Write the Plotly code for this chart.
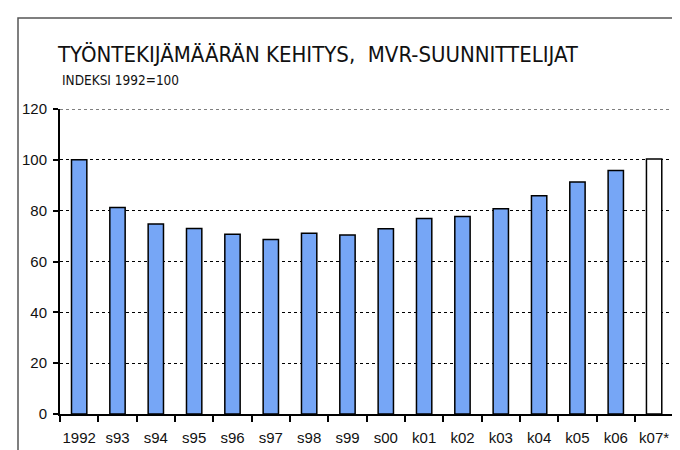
import plotly.graph_objects as go

categories = ["1992", "s93", "s94", "s95", "s96", "s97", "s98", "s99", "s00",
              "k01", "k02", "k03", "k04", "k05", "k06", "k07*", "k08*"]
values = [100, 81.2, 74.8, 73.0, 70.7, 68.7, 71.1, 70.4, 72.9,
          76.9, 77.7, 80.8, 85.9, 91.3, 95.8, 100.3, 102.6]
forecast = [False] * 15 + [True, True]
y_ticks = [0, 20, 40, 60, 80, 100, 120]

title_text = "TYÖNTEKIJÄMÄÄRÄN KEHITYS,  MVR-SUUNNITTELIJAT"
subtitle_text = "INDEKSI 1992=100"

BLUE = "#76A6F6"
colors = ["white" if f else BLUE for f in forecast]

W, H = 680, 450
L, T, B = 52, 101, 44
plot_w = W - L
plot_h = H - T - B
cat_px = 38.33
x_min = -0.5
x_max = x_min + plot_w / cat_px

fig = go.Figure()
fig.add_trace(go.Bar(
    x=list(range(len(categories))), y=values, width=0.4,
    marker=dict(color=colors, line=dict(color="black", width=1.5)),
    showlegend=False, hoverinfo="skip",
))

tick_font = dict(family="Liberation Sans, Arial, sans-serif", size=15, color="#111")
fig.update_xaxes(
    range=[x_min, x_max], automargin=False,
    tickmode="array", tickvals=list(range(len(categories))), ticktext=categories,
    showline=True, linecolor="black", linewidth=2,
    ticks="", ticklabelstandoff=9,
    showgrid=False, zeroline=False, tickfont=tick_font,
    minor=dict(tickmode="array", tickvals=[i - 0.5 for i in range(len(categories) + 1)],
               ticks="outside", ticklen=6, tickwidth=1.5, tickcolor="black", showgrid=False),
)
fig.update_yaxes(
    range=[0, max(y_ticks)], tickvals=y_ticks, automargin=False,
    showline=True, linecolor="black", linewidth=2,
    ticks="outside", ticklen=5, tickwidth=1.5, tickcolor="black", ticklabelstandoff=3,
    showgrid=True, gridcolor="black", griddash="dot", gridwidth=1,
    zeroline=False, tickfont=tick_font,
)

# top gridline at the range edge
fig.add_shape(type="line", xref="paper", yref="y", x0=0, x1=1,
              y0=max(y_ticks), y1=max(y_ticks),
              line=dict(color="black", width=1, dash="dot"))

# last category label, partly beyond the page edge as in the reference (placed in paper units)
last_idx = len(categories) - 1
fig.add_annotation(x=(last_idx - x_min) / (x_max - x_min), y=0, xref="paper", yref="paper",
                   text=categories[-1], showarrow=False, xanchor="center", yanchor="top",
                   yshift=-17, font=tick_font)

# outer chart border
fig.add_shape(type="rect", xref="paper", yref="paper",
              x0=(10 - L) / plot_w, x1=1.2, y0=-0.3, y1=(H - B - 10) / plot_h,
              line=dict(color="#555", width=1.5), fillcolor="rgba(0,0,0,0)", layer="below")

title_font = "DejaVu Sans Condensed, Liberation Sans Narrow, sans-serif"
fig.add_annotation(xref="paper", yref="paper", x=(47 - L) / plot_w, y=(H - B - 32) / plot_h,
                   xanchor="left", yanchor="top", showarrow=False, text=title_text,
                   font=dict(family=title_font, size=22, color="#111"))
fig.add_annotation(xref="paper", yref="paper", x=0, y=(H - B - 62) / plot_h,
                   xanchor="left", yanchor="top", showarrow=False, text=subtitle_text,
                   font=dict(family=title_font, size=13.5, color="#111"))

fig.update_layout(
    width=W, height=H,
    margin=dict(l=L, r=0, t=T, b=B, pad=0, autoexpand=False),
    plot_bgcolor="white", paper_bgcolor="white",
)
fig.write_html("out.html")
